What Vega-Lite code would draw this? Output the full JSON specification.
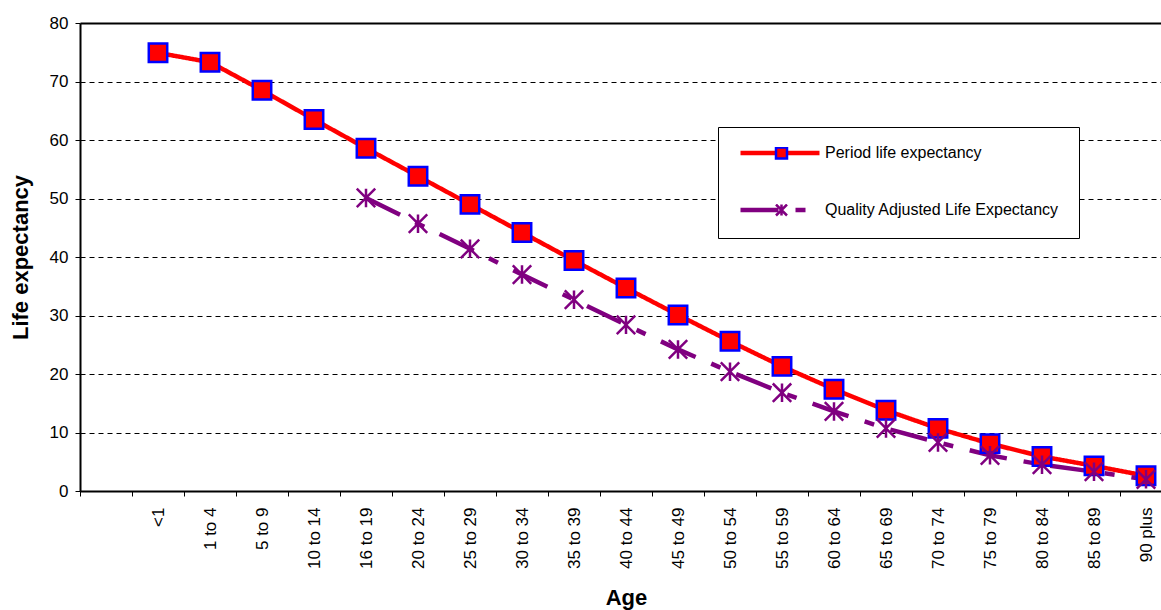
{
  "$schema": "https://vega.github.io/schema/vega-lite/v6.json",
  "width": 1081,
  "height": 468,
  "autosize": {"type": "none"},
  "padding": {"left": 80, "top": 23, "right": 0, "bottom": 119},
  "background": "#ffffff",
  "config": {
    "font": "Liberation Sans",
    "view": {"stroke": null}
  },
  "data": {
    "values": [
      {"age": "<1", "series": "Period life expectancy", "value": 74.9},
      {"age": "1 to 4", "series": "Period life expectancy", "value": 73.3},
      {"age": "5 to 9", "series": "Period life expectancy", "value": 68.5},
      {"age": "10 to 14", "series": "Period life expectancy", "value": 63.5},
      {"age": "16 to 19", "series": "Period life expectancy", "value": 58.6},
      {"age": "20 to 24", "series": "Period life expectancy", "value": 53.8},
      {"age": "25 to 29", "series": "Period life expectancy", "value": 49.0},
      {"age": "30 to 34", "series": "Period life expectancy", "value": 44.2},
      {"age": "35 to 39", "series": "Period life expectancy", "value": 39.4},
      {"age": "40 to 44", "series": "Period life expectancy", "value": 34.7},
      {"age": "45 to 49", "series": "Period life expectancy", "value": 30.1},
      {"age": "50 to 54", "series": "Period life expectancy", "value": 25.6},
      {"age": "55 to 59", "series": "Period life expectancy", "value": 21.3},
      {"age": "60 to 64", "series": "Period life expectancy", "value": 17.4},
      {"age": "65 to 69", "series": "Period life expectancy", "value": 13.8},
      {"age": "70 to 74", "series": "Period life expectancy", "value": 10.7},
      {"age": "75 to 79", "series": "Period life expectancy", "value": 8.1},
      {"age": "80 to 84", "series": "Period life expectancy", "value": 5.9},
      {"age": "85 to 89", "series": "Period life expectancy", "value": 4.3},
      {"age": "90 plus", "series": "Period life expectancy", "value": 2.6},
      {"age": "16 to 19", "series": "Quality Adjusted Life Expectancy", "value": 50.1},
      {"age": "20 to 24", "series": "Quality Adjusted Life Expectancy", "value": 45.7},
      {"age": "25 to 29", "series": "Quality Adjusted Life Expectancy", "value": 41.4},
      {"age": "30 to 34", "series": "Quality Adjusted Life Expectancy", "value": 37.0},
      {"age": "35 to 39", "series": "Quality Adjusted Life Expectancy", "value": 32.7},
      {"age": "40 to 44", "series": "Quality Adjusted Life Expectancy", "value": 28.4},
      {"age": "45 to 49", "series": "Quality Adjusted Life Expectancy", "value": 24.2},
      {"age": "50 to 54", "series": "Quality Adjusted Life Expectancy", "value": 20.4},
      {"age": "55 to 59", "series": "Quality Adjusted Life Expectancy", "value": 16.8},
      {"age": "60 to 64", "series": "Quality Adjusted Life Expectancy", "value": 13.6},
      {"age": "65 to 69", "series": "Quality Adjusted Life Expectancy", "value": 10.7},
      {"age": "70 to 74", "series": "Quality Adjusted Life Expectancy", "value": 8.3},
      {"age": "75 to 79", "series": "Quality Adjusted Life Expectancy", "value": 6.1},
      {"age": "80 to 84", "series": "Quality Adjusted Life Expectancy", "value": 4.5},
      {"age": "85 to 89", "series": "Quality Adjusted Life Expectancy", "value": 3.3},
      {"age": "90 plus", "series": "Quality Adjusted Life Expectancy", "value": 2.0}
    ]
  },
  "encoding": {
    "x": {
      "field": "age",
      "type": "nominal",
      "scale": {
        "type": "band",
        "domain": [" ", "<1", "1 to 4", "5 to 9", "10 to 14", "16 to 19", "20 to 24", "25 to 29", "30 to 34", "35 to 39", "40 to 44", "45 to 49", "50 to 54", "55 to 59", "60 to 64", "65 to 69", "70 to 74", "75 to 79", "80 to 84", "85 to 89", "90 plus"],
        "range": [0, 1092],
        "paddingInner": 0,
        "paddingOuter": 0
      },
      "axis": {
        "title": "Age",
        "titleFontSize": 22,
        "titleFontWeight": "bold",
        "titleColor": "#000000",
        "titlePadding": 19,
        "labelAngle": -90,
        "labelFontSize": 17,
        "labelColor": "#000000",
        "labelPadding": 11,
        "labelOverlap": false,
        "labelBound": false,
        "tickBand": "extent",
        "tickSize": 5,
        "tickColor": "#000000",
        "tickWidth": 1,
        "domainColor": "#000000",
        "domainWidth": 2,
        "grid": false
      }
    },
    "y": {
      "field": "value",
      "type": "quantitative",
      "scale": {"domain": [0, 80], "nice": false},
      "axis": {
        "title": "Life expectancy",
        "titleFontSize": 22,
        "titleFontWeight": "bold",
        "titleColor": "#000000",
        "titlePadding": 17,
        "values": [0, 10, 20, 30, 40, 50, 60, 70, 80],
        "labelFontSize": 17,
        "labelColor": "#000000",
        "labelPadding": 7,
        "tickSize": 5,
        "tickColor": "#000000",
        "domainColor": "#000000",
        "domainWidth": 2,
        "grid": true,
        "gridColor": "#000000",
        "gridDash": {"condition": {"test": "datum.value === 80", "value": []}, "value": [5, 4]},
        "gridWidth": {"condition": {"test": "datum.value === 80", "value": 2}, "value": 1}
      }
    }
  },
  "layer": [
    {
      "mark": {"type": "line", "strokeWidth": 4.5},
      "encoding": {
        "order": {"value": null},
        "color": {
          "field": "series",
          "type": "nominal",
          "scale": {
            "domain": ["Period life expectancy", "Quality Adjusted Life Expectancy"],
            "range": ["#ff0000", "#800080"]
          },
          "legend": {
            "orient": "none",
            "legendX": 638,
            "legendY": 104,
            "title": null,
            "direction": "vertical",
            "symbolType": "stroke",
            "symbolSize": 6241,
            "symbolStrokeWidth": 4.5,
            "labelFontSize": 16,
            "labelColor": "#000000",
            "labelOffset": 3,
            "labelLimit": 400,
            "padding": 20,
            "rowPadding": 41,
            "clipHeight": 12,
            "strokeColor": "#000000",
            "fillColor": "#ffffff",
            "encode": {
              "symbols": {"update": {"size": {"value": 6241}, "strokeWidth": {"value": 4.5}}}
            }
          }
        },
        "strokeDash": {
          "field": "series",
          "type": "nominal",
          "scale": {
            "domain": ["Period life expectancy", "Quality Adjusted Life Expectancy"],
            "range": [[1, 0], [38, 17, 10, 17]]
          }
        }
      }
    },
    {
      "mark": {"type": "point", "strokeWidth": 2.5, "opacity": 1, "size": 340},
      "encoding": {
        "shape": {
          "field": "series",
          "type": "nominal",
          "scale": {
            "domain": ["Period life expectancy", "Quality Adjusted Life Expectancy"],
            "range": ["square", "M-1,-1L1,1M-1,1L1,-1M0,-1L0,1"]
          },
          "legend": {
            "orient": "none",
            "legendX": 673.5,
            "legendY": 104,
            "title": null,
            "direction": "vertical",
            "symbolSize": 121,
            "symbolStrokeWidth": 2.5,
            "labelFontSize": 16,
            "labelColor": "transparent",
            "labelExpr": "' '",
            "labelOffset": 3,
            "labelLimit": 400,
            "padding": 20,
            "rowPadding": 41,
            "clipHeight": 12,
            "encode": {
              "symbols": {"update": {"size": {"value": 121}, "strokeWidth": {"value": 2.5}}}
            }
          }
        },
        "fill": {
          "field": "series",
          "type": "nominal",
          "scale": {
            "domain": ["Period life expectancy", "Quality Adjusted Life Expectancy"],
            "range": ["#ff0000", "transparent"]
          }
        },
        "stroke": {
          "field": "series",
          "type": "nominal",
          "scale": {
            "domain": ["Period life expectancy", "Quality Adjusted Life Expectancy"],
            "range": ["#0000ff", "#800080"]
          }
        }
      }
    }
  ],
  "resolve": {
    "legend": {"shape": "independent", "fill": "independent", "stroke": "independent"}
  }
}
